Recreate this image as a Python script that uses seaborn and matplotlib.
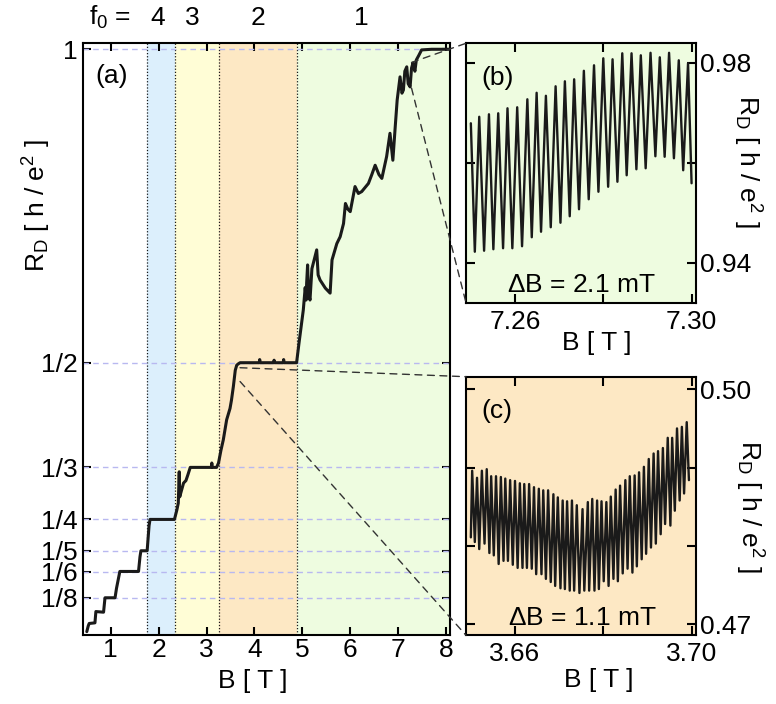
import matplotlib
matplotlib.use("Agg")
import matplotlib.pyplot as plt
from matplotlib.patches import ConnectionPatch
from matplotlib.transforms import blended_transform_factory
import seaborn as sns

# panel (a): diagonal resistance vs field
b_main = [0.50, 0.53, 0.55, 0.67, 0.69, 0.85, 0.88, 1.09, 1.12, 1.19, 1.58, 1.61, 1.63, 1.76,
          1.80, 1.82, 2.33, 2.38, 2.41, 2.43, 2.44, 2.48, 2.52, 2.57, 2.61, 2.66, 3.10, 3.11,
          3.12, 3.21, 3.25, 3.30, 3.35, 3.42, 3.49, 3.52, 3.56, 3.60, 3.63, 3.66, 3.70, 4.10,
          4.11, 4.12, 4.40, 4.41, 4.42, 4.60, 4.61, 4.62, 4.88, 4.93, 5.02, 5.06, 5.08, 5.09,
          5.11, 5.13, 5.16, 5.20, 5.23, 5.30, 5.33, 5.37, 5.48, 5.53, 5.58, 5.62, 5.72, 5.79,
          5.86, 5.90, 5.95, 6.00, 6.10, 6.17, 6.24, 6.38, 6.45, 6.52, 6.60, 6.66, 6.76, 6.83,
          6.89, 6.94, 6.98, 7.04, 7.08, 7.11, 7.14, 7.18, 7.21, 7.25, 7.28, 7.31, 7.35, 7.38,
          7.43, 7.49, 7.70, 8.08]
r_main = [0.071, 0.080, 0.084, 0.085, 0.103, 0.102, 0.125, 0.125, 0.140, 0.167, 0.167, 0.190,
          0.200, 0.200, 0.240, 0.250, 0.250, 0.265, 0.276, 0.326, 0.286, 0.297, 0.308, 0.312,
          0.321, 0.333, 0.333, 0.340, 0.333, 0.333, 0.340, 0.360, 0.377, 0.409, 0.427, 0.440,
          0.462, 0.488, 0.496, 0.498, 0.500, 0.500, 0.505, 0.500, 0.500, 0.504, 0.500, 0.500,
          0.505, 0.500, 0.500, 0.531, 0.584, 0.620, 0.600, 0.627, 0.656, 0.610, 0.600, 0.650,
          0.659, 0.680, 0.640, 0.632, 0.619, 0.615, 0.611, 0.664, 0.690, 0.701, 0.722, 0.754,
          0.745, 0.741, 0.781, 0.770, 0.773, 0.786, 0.800, 0.815, 0.800, 0.794, 0.829, 0.866,
          0.823, 0.877, 0.919, 0.956, 0.930, 0.935, 0.965, 0.972, 0.945, 0.940, 0.970, 0.978,
          0.965, 0.983, 0.990, 0.999, 1.000, 1.000]

# panel (b): oscillations near 7.28 T (extrema)
b_zb = [7.2500, 7.2509, 7.2519, 7.2530, 7.2541, 7.2551, 7.2562, 7.2573, 7.2583, 7.2594,
        7.2605, 7.2616, 7.2628, 7.2638, 7.2649, 7.2659, 7.2670, 7.2681, 7.2692, 7.2703,
        7.2713, 7.2724, 7.2734, 7.2745, 7.2756, 7.2767, 7.2779, 7.2789, 7.2800, 7.2811,
        7.2821, 7.2832, 7.2843, 7.2853, 7.2864, 7.2875, 7.2885, 7.2896, 7.2907, 7.2918,
        7.2928, 7.2939, 7.2949, 7.2960, 7.2971, 7.2981, 7.2992, 7.3000]
r_zb = [0.9679, 0.9422, 0.9692, 0.9424, 0.9697, 0.9427, 0.9699, 0.9429, 0.9709, 0.9429,
        0.9711, 0.9433, 0.9727, 0.9451, 0.9740, 0.9462, 0.9734, 0.9471, 0.9753, 0.9480,
        0.9763, 0.9493, 0.9767, 0.9507, 0.9784, 0.9527, 0.9795, 0.9542, 0.9809, 0.9552,
        0.9807, 0.9562, 0.9819, 0.9575, 0.9819, 0.9587, 0.9815, 0.9589, 0.9820, 0.9613,
        0.9811, 0.9612, 0.9820, 0.9609, 0.9805, 0.9585, 0.9799, 0.9559]

# panel (c): oscillations near 3.68 T (extrema)
b_zc = [3.6500, 3.6503, 3.6509, 3.6514, 3.6519, 3.6525, 3.6531, 3.6536, 3.6542, 3.6546,
        3.6552, 3.6557, 3.6563, 3.6568, 3.6574, 3.6578, 3.6584, 3.6589, 3.6595, 3.6600,
        3.6606, 3.6611, 3.6617, 3.6621, 3.6627, 3.6632, 3.6638, 3.6643, 3.6648, 3.6654,
        3.6660, 3.6664, 3.6670, 3.6675, 3.6681, 3.6687, 3.6691, 3.6697, 3.6703, 3.6708,
        3.6713, 3.6718, 3.6724, 3.6729, 3.6734, 3.6740, 3.6746, 3.6753, 3.6757, 3.6765,
        3.6768, 3.6775, 3.6780, 3.6786, 3.6790, 3.6796, 3.6801, 3.6807, 3.6812, 3.6817,
        3.6823, 3.6828, 3.6833, 3.6838, 3.6844, 3.6850, 3.6855, 3.6860, 3.6866, 3.6871,
        3.6876, 3.6881, 3.6887, 3.6892, 3.6897, 3.6903, 3.6908, 3.6914, 3.6919, 3.6924,
        3.6930, 3.6935, 3.6940, 3.6946, 3.6952, 3.6956, 3.6962, 3.6967, 3.6973, 3.6978,
        3.6983, 3.6989, 3.6994]
r_zc = [0.4811, 0.4896, 0.4805, 0.4887, 0.4796, 0.4896, 0.4803, 0.4898, 0.4791, 0.4889,
        0.4788, 0.4889, 0.4777, 0.4888, 0.4781, 0.4886, 0.4781, 0.4884, 0.4776, 0.4883,
        0.4772, 0.4880, 0.4772, 0.4879, 0.4772, 0.4879, 0.4771, 0.4875, 0.4764, 0.4873,
        0.4764, 0.4871, 0.4758, 0.4871, 0.4754, 0.4866, 0.4749, 0.4862, 0.4746, 0.4858,
        0.4745, 0.4857, 0.4743, 0.4858, 0.4743, 0.4852, 0.4740, 0.4847, 0.4743, 0.4856,
        0.4743, 0.4860, 0.4743, 0.4858, 0.4745, 0.4857, 0.4755, 0.4856, 0.4749, 0.4863,
        0.4758, 0.4872, 0.4755, 0.4877, 0.4765, 0.4884, 0.4771, 0.4889, 0.4766, 0.4890,
        0.4774, 0.4894, 0.4783, 0.4901, 0.4790, 0.4911, 0.4798, 0.4918, 0.4803, 0.4921,
        0.4815, 0.4925, 0.4828, 0.4938, 0.4826, 0.4938, 0.4845, 0.4950, 0.4858, 0.4952,
        0.4867, 0.4958, 0.4884]

# f0 regions
region_edges = [1.76, 2.34, 3.25, 4.88, 8.2]
region_colors = ["#dceffc", "#fffdd6", "#fde8c4", "#eefce0"]
f0_labels = ["4", "3", "2", "1"]
f0_pos = [1.97, 2.71, 4.08, 6.24]

ytick_vals = [1, 1 / 2, 1 / 3, 1 / 4, 1 / 5, 1 / 6, 1 / 8]
ytick_labels = ["1", "1/2", "1/3", "1/4", "1/5", "1/6", "1/8"]

sns.set_theme(style="ticks", rc={"axes.edgecolor": "black", "text.color": "black",
                                 "xtick.color": "black", "ytick.color": "black",
                                 "axes.labelcolor": "black"})
plt.rcParams["font.family"] = ["Liberation Sans", "DejaVu Sans"]
plt.rcParams["mathtext.default"] = "regular"
plt.rcParams["axes.linewidth"] = 1.5

FS = 19
ylab = "R$_D$ [ h / e$^2$ ]"
xlab = "B [ T ]"

fig = plt.figure(figsize=(7.76, 7.04), dpi=100)
ax = fig.add_axes([0.1066, 0.098, 0.4733, 0.8409])
axb = fig.add_axes([0.6005, 0.570, 0.2964, 0.3685])
axc = fig.add_axes([0.6005, 0.0976, 0.2964, 0.3673])

# --- panel (a)
for lo, hi, col in zip(region_edges[:-1], region_edges[1:], region_colors):
    ax.axvspan(lo, hi, color=col, lw=0, zorder=0)
for x in region_edges[:-1]:
    ax.axvline(x, color="k", ls=(0, (1, 1.5)), lw=0.9, zorder=1)
for v in ytick_vals:
    ax.axhline(v, color="#b8b8f0", ls=(0, (4, 3)), lw=1, zorder=1)

sns.lineplot(x=b_main, y=r_main, sort=False, estimator=None, color="k", lw=2.2,
             ax=ax, zorder=3, legend=False)
ax.set_xlim(0.415, 8.083)
ax.set_ylim(0.0656, 1.01)
ax.set_xticks(range(1, 9))
ax.set_yticks(ytick_vals, ytick_labels)
ax.tick_params(direction="in", top=True, right=True, length=6, width=1.5, labelsize=FS)
ax.tick_params(axis="x", pad=2)
ax.tick_params(axis="y", pad=3.5)
ax.text(0.464, -0.0777, xlab, transform=ax.transAxes, fontsize=FS, ha="center", va="center")
ax.text(-0.124, 0.725, ylab, transform=ax.transAxes, fontsize=FS, rotation=90,
        ha="center", va="center")
ax.text(0.035, 0.944, "(a)", transform=ax.transAxes, fontsize=FS, ha="left", va="center")

trans = blended_transform_factory(ax.transData, ax.transAxes)
ax.text(0.553, 1.0304, "f$_0$ =", transform=trans, fontsize=FS, ha="left", va="baseline")
for lab, xp in zip(f0_labels, f0_pos):
    ax.text(xp, 1.0304, lab, transform=trans, fontsize=FS, ha="center", va="baseline")

# --- panel (b)
axb.set_facecolor(region_colors[3])
sns.lineplot(x=b_zb, y=r_zb, sort=False, estimator=None, color="k", lw=1.7,
             ax=axb, legend=False)
axb.set_xlim(7.2489, 7.301)
axb.set_ylim(0.932, 0.9839)
axb.set_xticks([7.26, 7.28, 7.30], ["7.26", "", "7.30"])
axb.set_yticks([0.94, 0.96, 0.98], ["0.94", "", "0.98"])
axb.text(0.065, 0.866, "(b)", transform=axb.transAxes, fontsize=FS, ha="left", va="center")
axb.text(0.503, 0.0424, "$\\Delta$B = 2.1 mT", transform=axb.transAxes, fontsize=FS,
         ha="center", va="baseline")

# --- panel (c)
axc.set_facecolor(region_colors[2])
sns.lineplot(x=b_zc, y=r_zc, sort=False, estimator=None, color="k", lw=1.7,
             ax=axc, legend=False)
axc.set_xlim(3.6489, 3.701)
axc.set_ylim(0.4686, 0.5016)
axc.set_xticks([3.66, 3.68, 3.70], ["3.66", "", "3.70"])
axc.set_yticks([0.47, 0.48, 0.49, 0.50], ["0.47", "", "", "0.50"])
axc.text(0.065, 0.869, "(c)", transform=axc.transAxes, fontsize=FS, ha="left", va="center")
axc.text(0.5076, 0.04, "$\\Delta$B = 1.1 mT", transform=axc.transAxes, fontsize=FS,
         ha="center", va="baseline")

for a, ylc, xlc in ((axb, (1.222, 0.546), (0.568, -0.154)),
                    (axc, (1.23, 0.497), (0.576, -0.173))):
    a.tick_params(direction="in", top=True, right=True, left=True, labelleft=False,
                  labelright=True, length=6.5, width=1.5, labelsize=FS)
    a.tick_params(axis="x", pad=5)
    a.tick_params(axis="y", pad=3.2)
    a.text(*ylc, ylab, transform=a.transAxes, fontsize=FS, rotation=270,
           ha="center", va="center")
    a.text(*xlc, xlab, transform=a.transAxes, fontsize=FS, ha="center", va="center")

# zoom connectors
links = [((7.28, 0.979), axb, (0, 1)), ((7.28, 0.938), axb, (0, 0)),
         ((3.70, 0.492), axc, (0, 1)), ((3.70, 0.470), axc, (0, 0))]
for xyA, target, xyB in links:
    con = ConnectionPatch(xyA=xyA, coordsA=ax.transData, xyB=xyB, coordsB=target.transAxes,
                          color="#333333", ls=(0, (5, 4)), lw=1, zorder=5)
    fig.add_artist(con)

fig.savefig("out.png", dpi=100)
